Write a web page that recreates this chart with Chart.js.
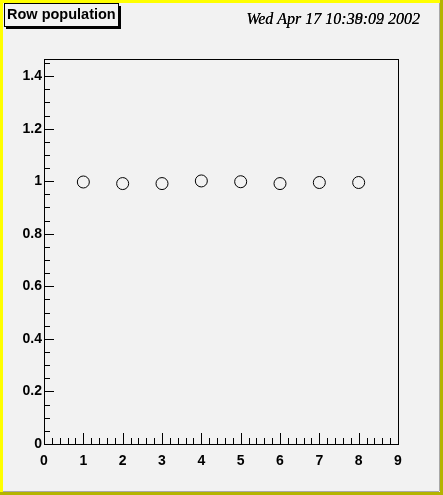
<!DOCTYPE html>
<html>
<head>
<meta charset="utf-8">
<script src="https://cdn.jsdelivr.net/npm/chart.js@4/dist/chart.umd.min.js"></script>
<style>
  html, body { margin: 0; padding: 0; background: #f2f2f2; }
  #wrap { width: 443px; height: 495px; position: relative; }
</style>
</head>
<body>
<div id="wrap"><canvas id="c" width="443" height="495"></canvas></div>
<script>
// row number vs. population
const rows = [1, 2, 3, 4, 5, 6, 7, 8];
const population = [0.997, 0.991, 0.991, 1.001, 0.998, 0.991, 0.995, 0.995];
const xTicks = [0, 1, 2, 3, 4, 5, 6, 7, 8, 9];
const yTicks = [0, 0.2, 0.4, 0.6, 0.8, 1, 1.2, 1.4];
const title = "Row population";
const stamps = ["Wed Apr 17 10:38:09 2002", "Wed Apr 17 10:39:02 2002"];

const labelFont = { family: "Liberation Sans", size: 14, weight: "bold" };

// background, pad border, frame, inner ticks, title box, date
const rootStyle = {
  id: "rootStyle",
  beforeDraw(chart) {
    const c = chart.ctx, W = chart.width, H = chart.height;
    c.save();
    c.fillStyle = "#f2f2f2";
    c.fillRect(0, 0, W, H);
    c.fillStyle = "#ffff00";
    c.fillRect(0, 0, W, 3);
    c.fillRect(0, 0, 3, H);
    c.fillStyle = "#b4b400";
    c.fillRect(W - 3, 0, 3, H);
    c.fillRect(0, H - 3, W, 3);
    c.fillStyle = "#a8a8a8";
    c.fillRect(W - 4, 3, 1, H - 7);
    c.fillRect(3, H - 4, W - 7, 1);
    c.restore();
  },
  afterDraw(chart) {
    const c = chart.ctx, a = chart.chartArea;
    const xs = chart.scales.x, ys = chart.scales.y;
    c.save();
    c.strokeStyle = "#000";
    c.lineWidth = 1;
    c.strokeRect(Math.round(a.left) + 0.5, Math.round(a.top) + 0.5,
      Math.round(a.right - a.left), Math.round(a.bottom - a.top));
    c.beginPath();
    // x ticks: major 1, minor 0.2
    for (let i = 0; i <= 45; i++) {
      const px = Math.round(xs.getPixelForValue(i * 0.2)) + 0.5;
      const len = i % 5 === 0 ? 11 : 6;
      c.moveTo(px, a.bottom);
      c.lineTo(px, a.bottom - len);
    }
    // y ticks: major 0.2, minor 0.05
    for (let i = 0; i * 0.05 <= ys.max + 1e-9; i++) {
      const py = Math.round(ys.getPixelForValue(i * 0.05)) + 0.5;
      const len = i % 4 === 0 ? 10 : 6;
      c.moveTo(a.left, py);
      c.lineTo(a.left + len, py);
    }
    c.stroke();

    // title box with shadow
    c.fillStyle = "#000";
    c.fillRect(6, 27, 115, 2);
    c.fillRect(119, 6, 2, 23);
    c.fillStyle = "#f2f2f2";
    c.fillRect(4, 3, 115, 24);
    c.strokeRect(4.5, 3.5, 114, 23);
    c.fillStyle = "#000";
    c.font = "bold 14.5px 'Liberation Sans'";
    c.textBaseline = "middle";
    c.textAlign = "left";
    c.fillText(title, 7, 15);

    c.font = "italic 16px 'Liberation Serif'";
    c.textAlign = "right";
    c.textBaseline = "alphabetic";
    stamps.forEach(s => c.fillText(s, 420, 24));
    c.restore();
  }
};

new Chart(document.getElementById("c"), {
  type: "scatter",
  data: {
    datasets: [{
      label: title,
      data: rows.map((r, i) => ({ x: r, y: population[i] })),
      pointStyle: "circle",
      pointRadius: 6,
      pointHoverRadius: 6,
      pointBackgroundColor: "rgba(0,0,0,0)",
      pointBorderColor: "#000",
      pointBorderWidth: 1,
      showLine: false
    }]
  },
  options: {
    responsive: false,
    animation: false,
    devicePixelRatio: 1,
    layout: { padding: { left: 0, top: 59, right: 45, bottom: 0 } },
    plugins: { legend: { display: false }, tooltip: { enabled: false }, title: { display: false } },
    scales: {
      x: {
        type: "linear",
        min: 0,
        max: 9,
        afterBuildTicks: s => { s.ticks = xTicks.map(v => ({ value: v })); },
        afterFit: s => { s.height = 51; },
        grid: { display: false, drawTicks: false },
        border: { display: false },
        ticks: {
          color: "#000",
          font: labelFont,
          padding: 9,
          maxRotation: 0,
          callback: v => String(v)
        }
      },
      y: {
        type: "linear",
        min: 0,
        max: 1.465,
        afterBuildTicks: s => { s.ticks = yTicks.map(v => ({ value: v })); },
        afterFit: s => { s.width = 44; },
        grid: { display: false, drawTicks: false },
        border: { display: false },
        ticks: {
          color: "#000",
          font: labelFont,
          padding: 2,
          callback: v => String(Number(v.toFixed(1)))
        }
      }
    }
  },
  plugins: [rootStyle]
});
</script>
</body>
</html>
